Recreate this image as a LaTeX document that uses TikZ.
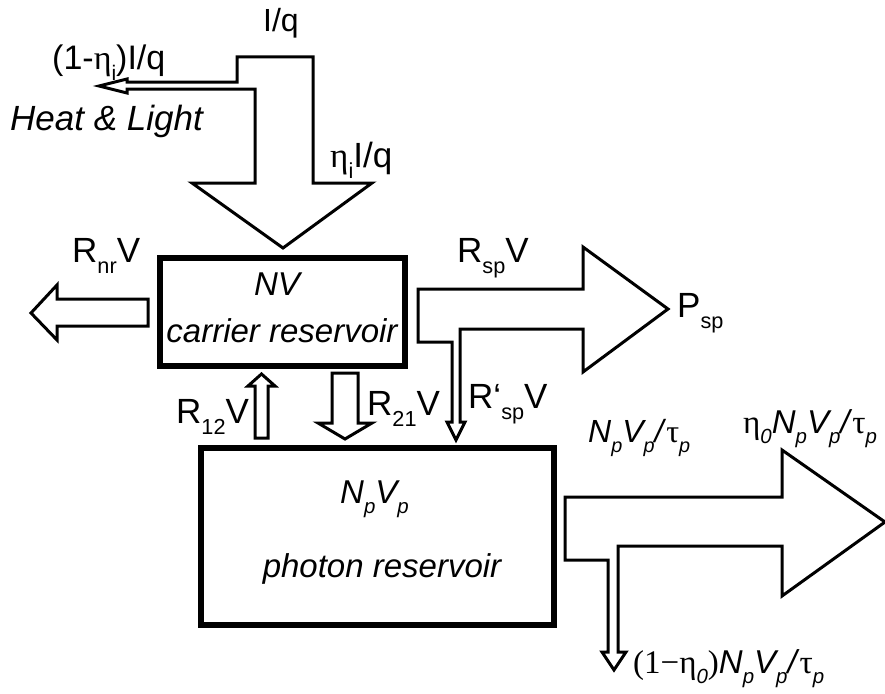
\documentclass[tikz,border=0pt]{standalone}
\usepackage{graphicx}
\usepackage{fontspec}
\setmainfont{Liberation Sans}
\newfontfamily\grk{Liberation Serif}
\newcommand\sub[1]{\raisebox{-.32em}{\scalebox{.62}{#1}}}

\begin{document}
\begin{tikzpicture}[x=1pt,y=-1pt,
    blk/.style={draw,line width=3pt,line join=miter,fill=white},
    resbox/.style={draw,line width=6pt,inner sep=0pt},
    lbl/.style={inner sep=0pt,anchor=base west,font=\fontsize{35}{40}\selectfont},
    boxtxt/.style={inner sep=0pt,anchor=base,font=\fontsize{33}{40}\selectfont\itshape}]
  \useasboundingbox (0,0) rectangle (885,693);
  \node[resbox,minimum width=245pt,minimum height=108pt] (carrier) at (282.5,312) {};
  \node[resbox,minimum width=353pt,minimum height=177pt] (photon) at (377.5,536.5) {};
  \draw[blk] (237,82) -- (237,57) -- (313,57) -- (313,183) -- (372,183) -- (283,248) -- (192,183)
    -- (255,183) -- (255,89) -- (127,89) -- (127,93) -- (99,86) -- (127,79) -- (127,82) -- cycle;
  \draw[blk] (148,299) -- (57,299) -- (57,285) -- (31,313) -- (57,340) -- (57,326) -- (148,326) -- cycle;
  \draw[blk] (418,342) -- (418,289) -- (583,289) -- (583,247) -- (668,309) -- (583,372) -- (583,329)
    -- (460,329) -- (460,422) -- (465,422) -- (456,440) -- (447,422) -- (452,422) -- (452,342) -- cycle;
  \draw[blk] (255,438) -- (255,386) -- (248,386) -- (261.5,374) -- (275,386) -- (268,386) -- (268,438) -- cycle;
  \draw[blk] (332,373) -- (332,423) -- (318,423) -- (345,439) -- (372,423) -- (358,423) -- (358,373) -- cycle;
  \draw[blk] (565,560) -- (565,497) -- (782,497) -- (782,450) -- (885,522) -- (782,596) -- (782,546)
    -- (618,546) -- (618,652) -- (626,652) -- (614,670) -- (602,652) -- (608,652) -- (608,560) -- cycle;
  \node[lbl,font=\fontsize{32}{36}\selectfont] (iq) at (263,32) {I/q};
  \node[lbl,font=\fontsize{34}{36}\selectfont] (lost) at (52,70) {(1-{\grk η}\sub{i})I/q};
  \node[lbl,font=\fontsize{35}{36}\selectfont\itshape] (heat) at (10,130) {Heat \& Light};
  \node[lbl] (inj) at (330,167) {{\grk η}\sub{i}I/q};
  \node[lbl] (rnr) at (72,262) {R\sub{nr}V};
  \node[lbl] (rsp) at (457,262) {R\sub{sp}V};
  \node[lbl] (psp) at (677,317) {P\sub{sp}};
  \node[lbl] (rsp2) at (468,408) {R‘\sub{sp}V};
  \node[lbl] (r12) at (176,423) {R\sub{12}V};
  \node[lbl] (r21) at (367,415) {R\sub{21}V};
  \node[boxtxt] (nv) at (277,295) {NV};
  \node[boxtxt] (carrtxt) at (282,342) {carrier reservoir};
  \node[boxtxt,anchor=base west] (npvp) at (340,503) {N\sub{p}V\sub{p}};
  \node[boxtxt] (phottxt) at (382,577) {photon reservoir};
  \node[lbl,font=\fontsize{32}{36}\selectfont] (loss) at (588,442)
    {\textit{N\sub{p}V\sub{p}/}{\grk τ}\sub{\textit{p}}};
  \node[lbl,font=\fontsize{33}{36}\selectfont] (out) at (743,433)
    {{\grk η}\sub{\textit{0}}\textit{N\sub{p}V\sub{p}/}{\grk τ}\sub{\textit{p}}};
  \node[lbl,font=\fontsize{33}{36}\selectfont] (mirror) at (633,673)
    {{\grk (1−η}\sub{\textit{0}}{\grk )}\textit{N\sub{p}V\sub{p}/}{\grk τ}\sub{\textit{p}}};
\end{tikzpicture}
\end{document}
